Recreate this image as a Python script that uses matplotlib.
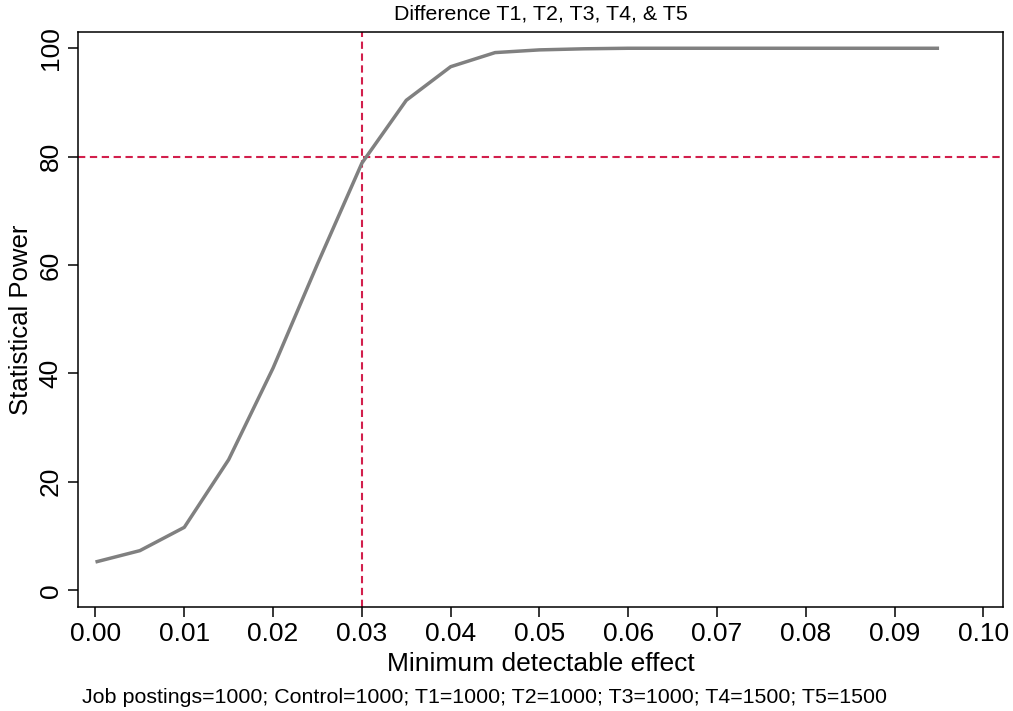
import numpy as np
import matplotlib
matplotlib.use("Agg")
import matplotlib.pyplot as plt

plt.rcParams['font.family'] = ['Liberation Sans', 'DejaVu Sans']

# minimum detectable effect vs statistical power
mde = [0.000, 0.005, 0.010, 0.015, 0.020, 0.025, 0.030, 0.035, 0.040, 0.045,
       0.050, 0.055, 0.060, 0.065, 0.070, 0.075, 0.080, 0.085, 0.090, 0.095]
power = [5.2, 7.3, 11.6, 24.1, 41.0, 60.2, 78.8, 90.4, 96.6, 99.2,
         99.7, 99.9, 100.0, 100.0, 100.0, 100.0, 100.0, 100.0, 100.0, 100.0]
target_mde = 0.03
target_power = 80

xticks = [0.00, 0.01, 0.02, 0.03, 0.04, 0.05, 0.06, 0.07, 0.08, 0.09, 0.10]
yticks = [0, 20, 40, 60, 80, 100]

fig = plt.figure(figsize=(10.13, 7.11), dpi=100)
ax = fig.add_axes([78/1013, 1 - 607/711, (1003-78)/1013, (607-32)/711])

ax.plot(mde, power, color='#808080', lw=2.5, solid_capstyle='butt', zorder=3)
ax.axvline(target_mde, color='#d21f4c', lw=1.5, dashes=(3.5, 2.2), zorder=2)
ax.axhline(target_power, color='#d21f4c', lw=1.5, dashes=(3.5, 2.2), zorder=2)

ax.set_xlim(-0.00197, 0.1022)
ax.set_ylim(-3.1, 103.0)
ax.set_xticks(xticks)
ax.set_xticklabels(['%.2f' % t for t in xticks])
ax.set_yticks(yticks)
ax.set_yticklabels([str(t) for t in yticks], rotation=90, va='center')

ax.tick_params(axis='both', direction='out', length=7, width=1.1, labelsize=19, pad=4)
for s in ax.spines.values():
    s.set_linewidth(1.1)

ax.set_xlabel('Minimum detectable effect', fontsize=19, labelpad=4)
ax.set_ylabel('Statistical Power', fontsize=18.5, labelpad=4)
ax.set_title('Difference T1, T2, T3, T4, & T5', fontsize=15.4, pad=9)

fig.text(82/1013, 1 - 703/711,
         'Job postings=1000; Control=1000; T1=1000; T2=1000; T3=1000; T4=1500; T5=1500',
         fontsize=15.4, ha='left', va='baseline')

fig.savefig('out.png', dpi=100)
